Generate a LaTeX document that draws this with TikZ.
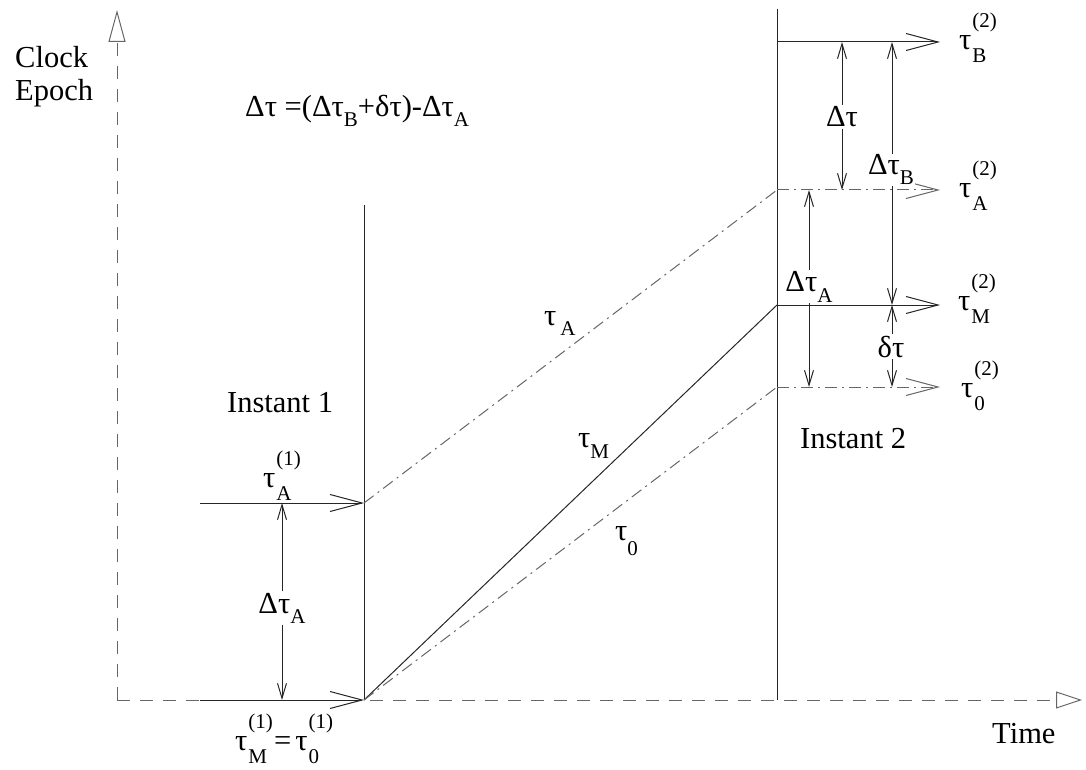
\documentclass[tikz,border=0pt]{standalone}
\usepackage{fontspec}
\setmainfont{Liberation Serif}
\usetikzlibrary{arrows.meta}
\newcommand\sbf{\fontsize{21pt}{21pt}\selectfont}
\newcommand\tsb[2]{τ\raisebox{-#2pt}{\sbf #1}}
\newcommand\tss[2]{τ\kern1pt\rlap{\raisebox{22pt}{\sbf #2}}\raisebox{-13pt}{\sbf #1}}
\begin{document}
\begin{tikzpicture}[x=1pt,y=-1pt,
  font=\fontsize{30.5pt}{34pt}\selectfont,
  ln/.style={line width=1pt, draw=black!85},
  dd/.style={line width=1pt, draw=black!60, dash pattern=on 12pt off 5pt on 2pt off 5pt},
  ax/.style={line width=1pt, draw=black!60, dash pattern=on 13pt off 10pt},
  harr/.style={-{Straight Barb[length=32pt,width=17pt]}},
  darr/.style={{Straight Barb[length=15pt,width=9pt]}-{Straight Barb[length=15pt,width=9pt]}},
  lbl/.style={inner sep=0pt, anchor=base west},
  mk/.style={fill=white, inner sep=2pt, anchor=base}]
\path[use as bounding box] (0,0) rectangle (1086,770);
% key points
\coordinate (O) at (117,700);
\coordinate (Ytip) at (117,10);
\coordinate (Xtip) at (1082,700);
\coordinate (V1t) at (364,205);
\coordinate (V1b) at (364,700);
\coordinate (V1a) at (364,503);
\coordinate (V2t) at (777,9);
\coordinate (V2b) at (777,700);
\coordinate (LAs) at (200,503);
\coordinate (LMs) at (200,700);
\coordinate (RB) at (777,42);
\coordinate (RA) at (777,190);
\coordinate (RM) at (777,305);
\coordinate (R0) at (777,387);
\coordinate (RBe) at (940,42);
\coordinate (RAe) at (940,190);
\coordinate (RMe) at (940,305);
\coordinate (R0e) at (940,387);
\coordinate (dT1) at (842,42);
\coordinate (dT2) at (842,190);
\coordinate (dB1) at (892,42);
\coordinate (dB2) at (892,305);
\coordinate (dS2) at (892,387);
\coordinate (dA1) at (809,190);
\coordinate (dA2) at (809,387);
\coordinate (lA1) at (282,503);
\coordinate (lA2) at (282,700);
% axes
\draw[ax, -{Triangle[open,length=32pt,width=17pt]}] (O) -- (Ytip);
\draw[ax, -{Triangle[open,length=26pt,width=17pt]}] (O) -- (Xtip);
% verticals
\draw[ln] (V1t) -- (V1b);
\draw[ln] (V2t) -- (V2b);
% left horizontals
\draw[ln, harr] (LAs) -- (V1a);
\draw[ln, harr] (LMs) -- (V1b);
% diagonal clocks
\draw[dd] (V1a) -- (RA);
\draw[ln] (V1b) -- (RM);
\draw[dd] (V1b) -- (R0);
% right horizontals
\draw[ln, harr] (RB) -- (RBe);
\draw[dd, harr] (RA) -- (RAe);
\draw[ln, harr] (RM) -- (RMe);
\draw[dd, harr] (R0) -- (R0e);
% difference arrows
\draw[ln, darr] (dT1) -- (dT2);
\draw[ln, darr] (dB1) -- (dB2);
\draw[ln, darr] (dB2) -- (dS2);
\draw[ln, darr] (dA1) -- (dA2);
\draw[ln, darr] (lA1) -- (lA2);
% labels on arrows
\node[mk] (tDT) at (842,127) {Δτ};
\node[mk, inner sep=1pt] (tDB) at (891,175) {Δ\tsb{B}{10}};
\node[mk, inner sep=1pt] (tDAr) at (809,291) {Δ\tsb{A}{11}};
\node[mk] (tds) at (891,357) {δτ};
\node[mk] (tDAl) at (282,613) {Δ\tsb{A}{10}};
% axis and other texts
\node[lbl] (clock) at (15,68) {Clock};
\node[lbl] (epoch) at (15,101) {Epoch};
\node[lbl] (time) at (992,743) {Time};
\node[lbl] (inst1) at (227,412) {Instant 1};
\node[lbl] (inst2) at (800,448) {Instant 2};
\node[lbl] (formula) at (245,117) {Δτ =(Δ\tsb{B}{10}+δτ)-Δ\tsb{A}{10}};
% clock labels
\node[lbl] (tA) at (544,325) {τ\kern4pt\raisebox{-10pt}{\sbf A}};
\node[lbl] (tM) at (578,447) {\tsb{M}{11}};
\node[lbl] (t0) at (615,540) {\tsb{0}{15}};
\node[lbl] (tB2) at (959,50) {\tss{B}{(2)}};
\node[lbl] (tA2) at (959,197) {\tss{A}{(2)}};
\node[lbl] (tM2) at (958,310) {\tss{M}{(2)}};
\node[lbl] (t02) at (961,397) {\tss{0}{(2)}};
\node[lbl] (tA1) at (263,487) {\tss{A}{(1)}};
\node[lbl] (tM1) at (235,750) {\tss{M}{(1)}\kern7pt=\kern4pt\tss{0}{(1)}};
\end{tikzpicture}
\end{document}
